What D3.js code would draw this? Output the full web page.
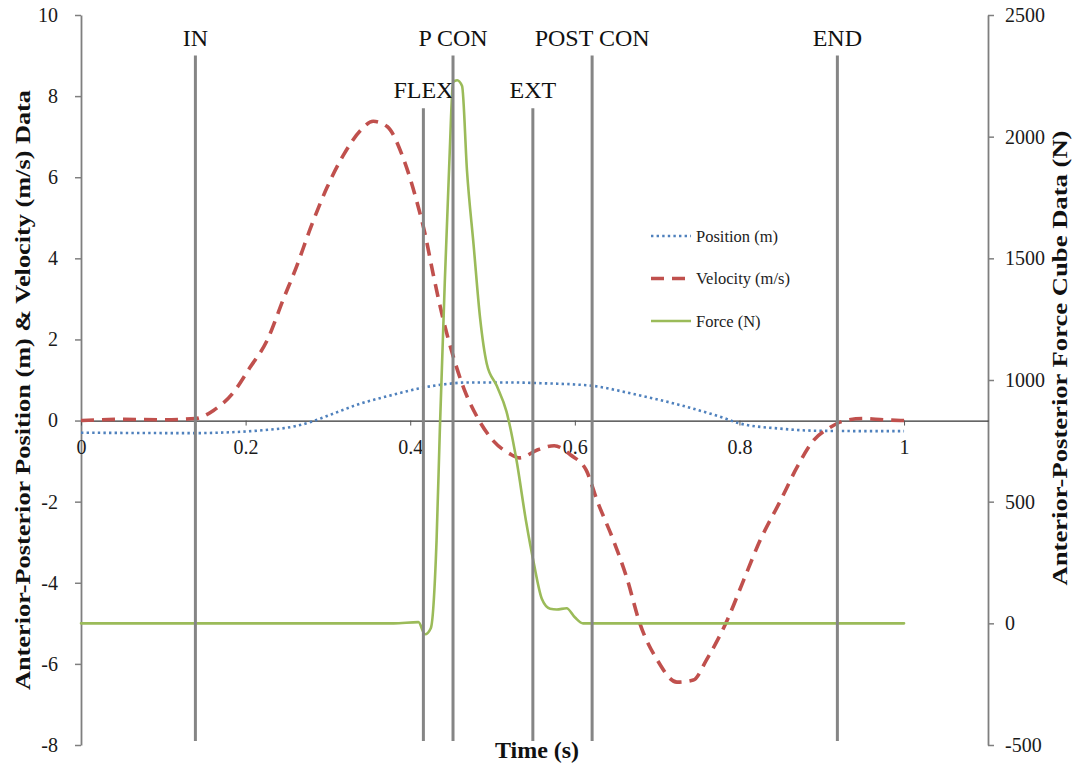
<!DOCTYPE html>
<html lang="en">
<head>
<meta charset="utf-8">
<style type="text/css">
    body { margin: 0; background: #fff; }
    svg { display: block; font-family: "Liberation Serif", "DejaVu Serif", serif; }
    .axis text { font-family: "Liberation Serif", serif; font-size: 20px; fill: #1a1a1a; }
    .evt-label { font-size: 24px; fill: #111; }
    .legend text { font-size: 16.5px; fill: #222; }
    .title { font-weight: bold; font-size: 22px; fill: #111; }
</style>
</head>
<body>
<svg width="1089" height="764"></svg>
<script src="https://d3js.org/d3.v7.min.js"></script>
<script type="text/javascript">

// ---- data ----
var xTicks = [0, 0.2, 0.4, 0.6, 0.8, 1];
var leftTicks = [-8, -6, -4, -2, 0, 2, 4, 6, 8, 10];
var rightTicks = [-500, 0, 500, 1000, 1500, 2000, 2500];

// position (m), left axis
var posTime = [0, 0.14, 0.18, 0.22, 0.26, 0.28, 0.30, 0.34, 0.38, 0.41, 0.44, 0.47, 0.52, 0.56, 0.60, 0.62, 0.67, 0.73, 0.78, 0.80, 0.85, 0.89, 0.95, 1.0];
var posVal  = [-0.3, -0.31, -0.29, -0.24, -0.14, -0.03, 0.12, 0.42, 0.64, 0.79, 0.89, 0.94, 0.94, 0.92, 0.89, 0.86, 0.66, 0.37, 0.07, -0.07, -0.2, -0.25, -0.26, -0.26];

// velocity (m/s), left axis
var velTime = [0, 0.05, 0.1, 0.139, 0.161, 0.185, 0.205, 0.226, 0.246, 0.262, 0.278, 0.299, 0.319, 0.339, 0.355, 0.372, 0.391, 0.408, 0.418, 0.428, 0.44, 0.452, 0.465, 0.481, 0.501, 0.521, 0.533, 0.555, 0.575, 0.595, 0.614, 0.627, 0.647, 0.663, 0.679, 0.70, 0.724, 0.744, 0.76, 0.785, 0.805, 0.825, 0.85, 0.87, 0.89, 0.91, 0.925, 0.95, 0.975, 1.0];
var velVal  = [0, 0.03, 0.02, 0.05, 0.25, 0.69, 1.3, 1.97, 3.0, 3.8, 4.7, 5.75, 6.55, 7.14, 7.38, 7.25, 6.5, 5.4, 4.6, 3.6, 2.5, 1.6, 0.8, 0.1, -0.5, -0.82, -0.92, -0.72, -0.62, -0.85, -1.23, -1.97, -2.96, -3.87, -5.0, -5.9, -6.45, -6.4, -5.9, -4.93, -3.94, -2.96, -1.97, -1.15, -0.49, -0.17, -0.02, 0.05, 0.02, 0];

// force (N), right axis
var forceTime = [0, 0.38, 0.41, 0.418, 0.425, 0.432, 0.436, 0.442, 0.448, 0.452, 0.457, 0.463, 0.469, 0.477, 0.485, 0.493, 0.505, 0.517, 0.529, 0.541, 0.55, 0.56, 0.57, 0.578, 0.59, 0.60, 0.61, 0.70, 1.0];
var forceVal  = [0, 0, 5, -45, -20, 340, 796, 1403, 1937, 2224, 2232, 2208, 1859, 1555, 1251, 1067, 977, 870, 673, 414, 250, 100, 60, 57, 62, 25, 0, 0, 0];

// event markers (time, top and bottom in left axis units)
var eventNames = ["IN", "FLEX", "P CON", "EXT", "POST CON", "END"];
var eventTime  = [0.139, 0.416, 0.452, 0.549, 0.621, 0.919];
var eventTop   = [9, 7.7, 9, 7.7, 9, 9];
var eventBottom = -7.9;

var legendNames = ["Position (m)", "Velocity (m/s)", "Force (N)"];
//----------------------------------------

var svg = d3.select("svg");

var x = d3.scaleLinear().domain([0, 1.102]).range([81, 988]);
var yL = d3.scaleLinear().domain([-8, 10]).range([745, 15]);
var yR = d3.scaleLinear().domain([-500, 2500]).range([745, 15]);

var plain = function (d) { return String(d); };

var series = [
    {name: legendNames[0], t: posTime, v: posVal, y: yL, color: "#4f81bd", width: 2.6, dash: "2.4,3.2", cap: "butt"},
    {name: legendNames[1], t: velTime, v: velVal, y: yL, color: "#c0504d", width: 3.6, dash: "13,8", cap: "butt"},
    {name: legendNames[2], t: forceTime, v: forceVal, y: yR, color: "#9bbb59", width: 2.6, dash: null, cap: "round"}
];

// axes
var leftAxis = svg.append("g").attr("class", "axis")
    .attr("transform", "translate(" + x(0) + ",0)")
    .call(d3.axisLeft(yL).tickValues(leftTicks).tickSize(6).tickSizeOuter(0).tickPadding(17).tickFormat(plain));

var rightAxis = svg.append("g").attr("class", "axis")
    .attr("transform", "translate(" + x.range()[1] + ",0)")
    .call(d3.axisRight(yR).tickValues(rightTicks).tickSize(6).tickSizeOuter(0).tickPadding(11).tickFormat(plain));

[leftAxis, rightAxis].forEach(function (a) {
    a.select(".domain").attr("stroke", "#7f7f7f").attr("stroke-width", 1.8);
    a.selectAll(".tick line").attr("stroke", "#7f7f7f").attr("stroke-width", 1.5);
});

var xAxis = svg.append("g").attr("class", "axis")
    .attr("transform", "translate(0," + yL(0) + ")")
    .call(d3.axisBottom(x).tickValues(xTicks).tickSize(5).tickSizeOuter(0).tickPadding(14).tickFormat(plain));
xAxis.select(".domain").attr("stroke", "#333").attr("stroke-width", 1.2);
xAxis.selectAll(".tick line").attr("stroke", "#555");

// series
series.forEach(function (s) {
    var pts = s.t.map(function (t, i) { return [t, s.v[i]]; });
    var line = d3.line()
        .x(function (d) { return x(d[0]); })
        .y(function (d) { return s.y(d[1]); })
        .curve(d3.curveMonotoneX);
    svg.append("path")
        .datum(pts)
        .attr("d", line)
        .attr("fill", "none")
        .attr("stroke", s.color)
        .attr("stroke-width", s.width)
        .attr("stroke-linecap", s.cap)
        .attr("stroke-dasharray", s.dash);
});

// event lines and labels
var evt = svg.append("g");
eventNames.forEach(function (n, i) {
    evt.append("line")
        .attr("x1", x(eventTime[i])).attr("x2", x(eventTime[i]))
        .attr("y1", yL(eventTop[i])).attr("y2", yL(eventBottom))
        .attr("stroke", "#858585")
        .attr("stroke-width", 3);
    evt.append("text")
        .attr("class", "evt-label")
        .attr("x", x(eventTime[i]))
        .attr("y", yL(eventTop[i]) - 10)
        .attr("text-anchor", "middle")
        .text(n);
});

// legend
var legend = svg.append("g").attr("class", "legend");
series.forEach(function (s, i) {
    var ly = 236 + i * 42.5;
    legend.append("line")
        .attr("x1", 651).attr("x2", 691)
        .attr("y1", ly).attr("y2", ly)
        .attr("stroke", s.color)
        .attr("stroke-width", s.width)
        .attr("stroke-dasharray", s.dash);
    legend.append("text")
        .attr("x", 696).attr("y", ly)
        .attr("dy", "0.35em")
        .text(s.name);
});

// titles
svg.append("text").attr("class", "title")
    .attr("transform", "translate(30,390) rotate(-90)")
    .attr("text-anchor", "middle")
    .attr("textLength", 600).attr("lengthAdjust", "spacingAndGlyphs")
    .text("Anterior-Posterior Position (m) & Velocity (m/s) Data");

svg.append("text").attr("class", "title")
    .attr("transform", "translate(1067,358) rotate(-90)")
    .attr("text-anchor", "middle")
    .attr("textLength", 455).attr("lengthAdjust", "spacingAndGlyphs")
    .text("Anterior-Posterior Force Cube Data (N)");

svg.append("text").attr("class", "title")
    .attr("x", 537).attr("y", 758)
    .attr("text-anchor", "middle")
    .style("font-size", "24px")
    .text("Time (s)");

</script>
</body>
</html>
